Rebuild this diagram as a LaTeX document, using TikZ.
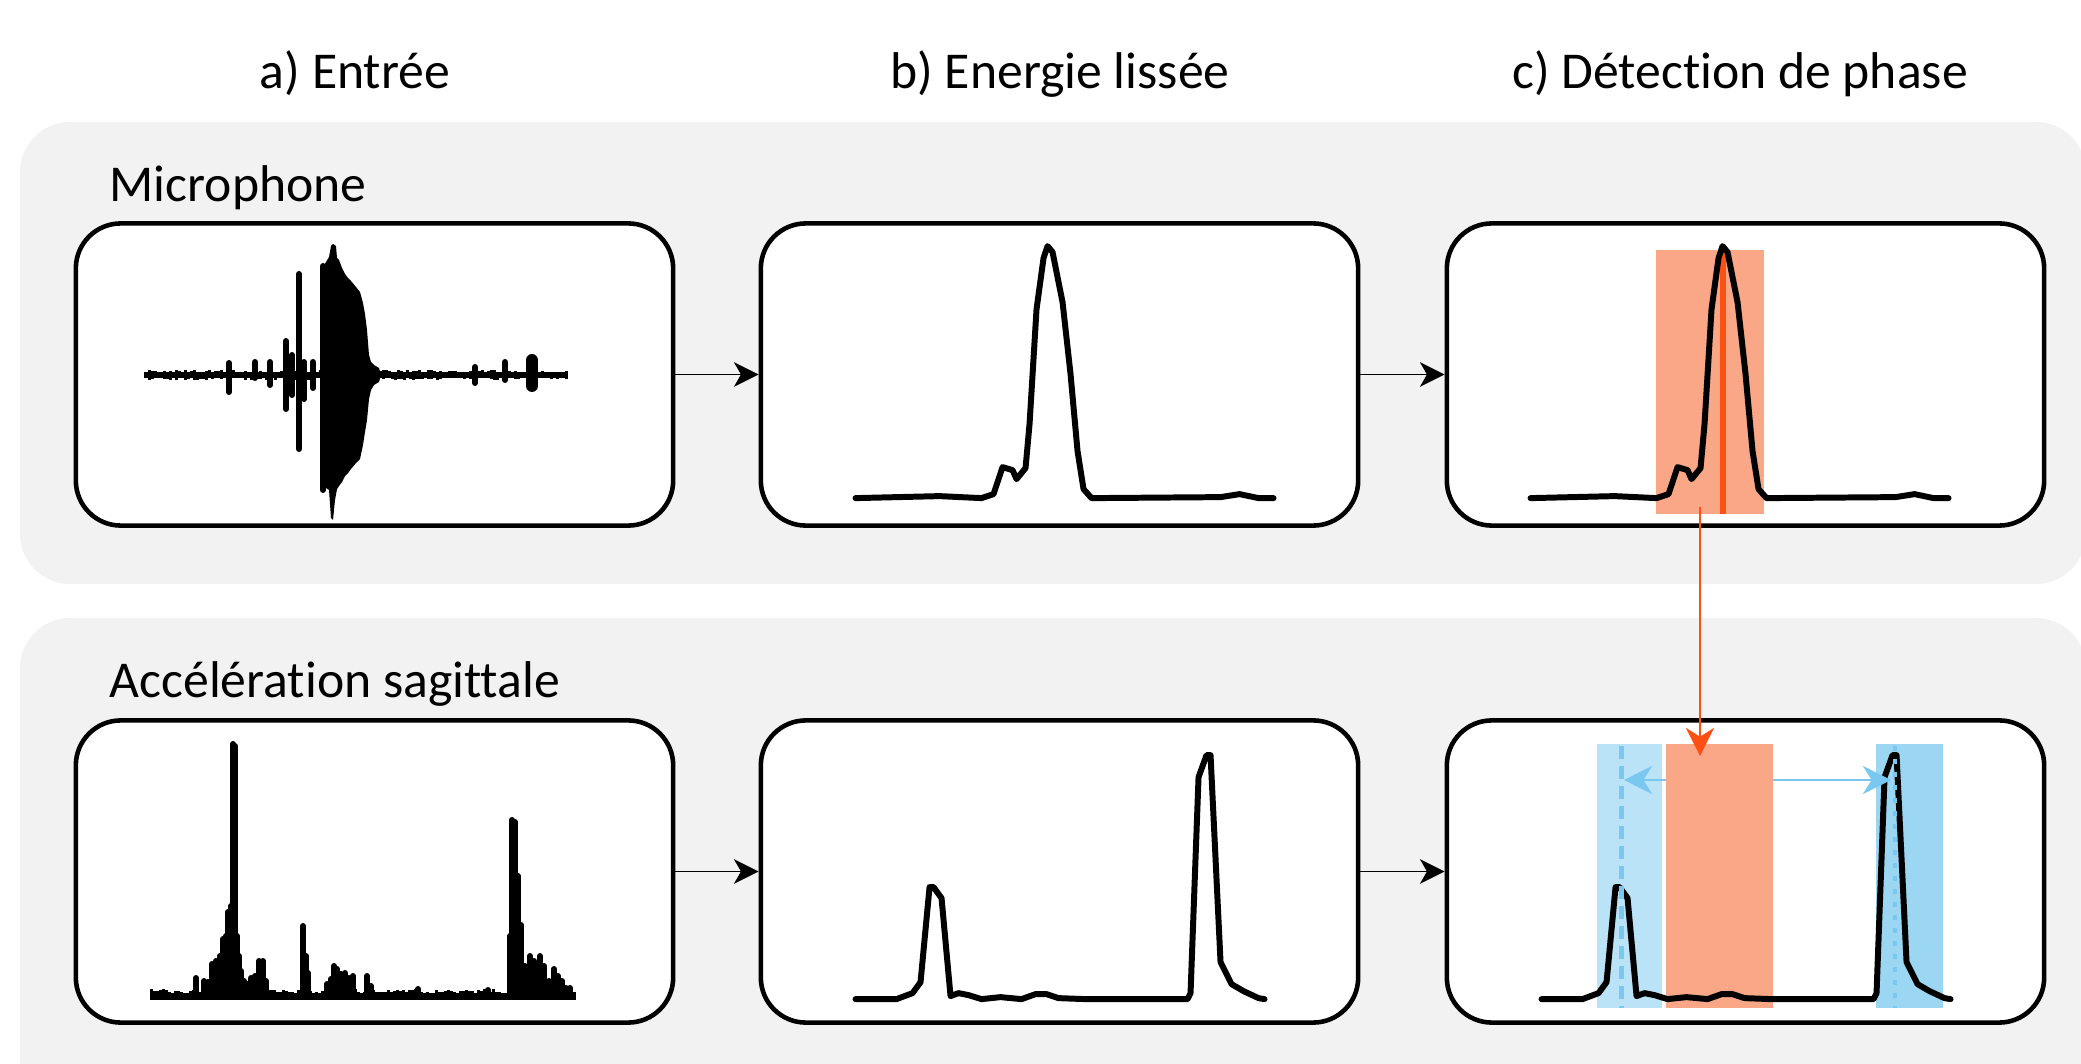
\documentclass[tikz,border=0pt]{standalone}
\usepackage{fontspec}
\setmainfont{Carlito}[Ligatures=NoCommon]
\usetikzlibrary{arrows.meta}

\definecolor{panelgray}{RGB}{242,242,242}
\definecolor{selorange}{RGB}{249,167,134}
\definecolor{peakred}{RGB}{252,80,20}
\definecolor{winlight}{RGB}{187,227,247}
\definecolor{windark}{RGB}{155,215,242}
\definecolor{lagblue}{RGB}{120,200,240}

\begin{document}
\begin{tikzpicture}[x=0.01cm, y=-0.01cm,
	panel/.style={fill=panelgray, rounded corners=0.5cm},
	plotbox/.style={draw, line width=1.3pt, fill=white, rounded corners=0.45cm, minimum width=5.97cm, minimum height=3.02cm, inner sep=0pt},
	heading/.style={anchor=base, inner sep=0pt, font=\fontsize{14.7}{18}\selectfont},
	flow/.style={-{Stealth[length=7pt, width=7pt, inset=2pt]}, line width=0.5pt},
	trace/.style={line width=1.7pt, line join=round, line cap=round},
	spike/.style={line width=0.06cm, line cap=round},
	hiss/.style={line width=0.03cm},
	band/.style={inner sep=0pt, outer sep=0pt, minimum height=2.64cm},
	energymic/.pic={
		\draw[trace] (97,277) -- (181,275) -- (223,277) -- (235,273) -- (244,246) -- (254,249) -- (258,258) -- (267,247) -- (271,203) -- (278,88) -- (285,37) -- (289,25) -- (294,31) -- (304,81) -- (312,153) -- (319,230) -- (325,268) -- (333,277) -- (462,276) -- (481,273) -- (500,277) -- (515,277);
	},
	energyacc/.pic={
		\draw[trace] (97,281) -- (138,281) -- (154,275) -- (162,264) -- (171,169) -- (175,169) -- (183,180) -- (192,278) -- (200,275) -- (210,277) -- (223,281) -- (242,279) -- (263,281) -- (277,276) -- (288,276) -- (300,280) -- (327,281) -- (429,281) -- (432,275) -- (440,59) -- (448,37) -- (452,37) -- (462,244) -- (473,266) -- (485,273) -- (500,280) -- (506,281);
	}]
	\useasboundingbox (0,0) rectangle (2081,1064);

	% Grey panels
	\fill[panel] (20,122) rectangle (2086,584);
	\fill[panel] (20,618) rectangle (2086,1110);

	% Column titles and row labels
	\node[heading] (ttlA) at (355,89) {a) Entrée};
	\node[heading] (ttlB) at (1060,89) {b) Energie lissée};
	\node[heading] (ttlC) at (1740,89) {c) Détection de phase};
	\node[heading, anchor=base west] (lblMic) at (109,202) {Microphone};
	\node[heading, anchor=base west] (lblAcc) at (109,698) {Accélération sagittale};

	% Plot boxes
	\node[plotbox] (mica) at (374.5,374.5) {};
	\node[plotbox] (micb) at (1059.5,374.5) {};
	\node[plotbox] (micc) at (1745.5,374.5) {};
	\node[plotbox] (acca) at (374.5,871.5) {};
	\node[plotbox] (accb) at (1059.5,871.5) {};
	\node[plotbox] (accc) at (1745.5,871.5) {};

	% Raw microphone signal
	\pgfmathsetseed{7}
	\draw[line width=0.06cm] (144,375) -- (567,375);
	\foreach \x in {146,149,...,566}
		\draw[hiss] (\x,{375-2-3*rnd}) -- (\x,{375+2+3*rnd});
	\fill[line join=round] (322,375) -- (322,269) -- (326,262) -- (329,257) -- (331,246) -- (333,244) -- (336,246) -- (337,258) -- (339,260) -- (342,268) -- (345,274) -- (348,278) -- (351,281) -- (356,287) -- (360,292) -- (363,303) -- (365,314) -- (367,330) -- (369,355) -- (371,362) -- (374,365) -- (379,368) -- (381,375)
		-- (379,382) -- (374,385) -- (371,390) -- (369,399) -- (367,420) -- (365,432) -- (363,445) -- (360,459) -- (356,463) -- (351,469) -- (348,473) -- (345,476) -- (342,482) -- (339,486) -- (337,489) -- (335,500) -- (333,520) -- (331,518) -- (329,490) -- (326,488) -- (322,488) -- cycle;
	\foreach \x/\t/\b in {229/363/392, 255/362/378, 270/362/385, 286/341/409, 292/355/395, 299/274/449, 304/362/399, 313/362/388, 323/266/490, 475/367/383, 505/362/380}
		\draw[spike] (\x,\t) -- (\x,\b);
	\draw[line width=0.12cm, line cap=round] (532,360) -- (532,386);

	% Raw sagittal acceleration
	\pgfmathsetseed{11}
	\draw[line width=0.07cm] (150,996) -- (576,996);
	\foreach \x in {151,154,...,575}
		\draw[hiss] (\x,{996-3-4*rnd}) -- (\x,{996+2+2*rnd});
	\foreach \x/\h in {196/18, 204/15, 208/14, 212/32, 216/35, 220/40, 223/57, 226/60, 228/84, 231/90, 233/252, 235/250, 237/60, 239/40, 241/25, 244/15, 247/12, 251/18, 255/20, 259/35, 263/35, 266/15, 303/70, 306/40, 308/23, 327/12, 331/17, 334/30, 337/27, 341/22, 345/23, 349/18, 353/20, 367/20, 371/10, 418/7, 488/6, 510/60, 512/176, 515/174, 518/120, 521/71, 525/30, 530/40, 534/35, 540/40, 544/30, 549/15, 554/27, 558/20, 562/15, 566/8, 570/8}
		\draw[spike] (\x,996) -- ++(0,-\h);

	% Smoothed energy
	\pic at (micb.north west) {energymic};
	\pic at (accb.north west) {energyacc};

	% Phase detection, microphone
	\node[band, fill=selorange, minimum width=1.08cm] (selMic) at (1710,382) {};
	\draw[peakred, line width=0.06cm] (1723,250) -- (1723,514);
	\pic at ([xshift=-0.11cm]micc.north west) {energymic};

	% Phase detection, acceleration
	\node[band, fill=winlight, minimum width=0.65cm] (winL) at (1629.5,876) {};
	\node[band, fill=selorange, minimum width=1.07cm] (selAcc) at (1719.5,876) {};
	\node[band, fill=windark, minimum width=0.67cm] (winR) at (1909.5,876) {};
	\pic at (accc.north west) {energyacc};
	\draw[lagblue, line width=0.05cm, dash pattern=on 0.13cm off 0.07cm] (1621,746) -- (1621,1008);
	\draw[lagblue, line width=0.045cm, dash pattern=on 0.05cm off 0.08cm] (1895,746) -- (1895,1008);

	% Connectors
	\draw[flow] (mica) -- (micb);
	\draw[flow] (micb) -- (micc);
	\draw[flow] (acca) -- (accb);
	\draw[flow] (accb) -- (accc);

	\coordinate (pkTop) at (1700,507);
	\coordinate (pkBot) at (1700,756);
	\draw[peakred, line width=0.6pt, -{Stealth[length=8pt, width=8pt, inset=2.5pt]}] (pkTop) -- (pkBot);

	\coordinate (lagL) at (1624,780);
	\coordinate (lagR) at (1891,780);
	\draw[lagblue, line width=0.7pt, -{Stealth[length=8pt, width=8pt, inset=2.5pt]}] (selAcc.west |- lagL) -- (lagL);
	\draw[lagblue, line width=0.7pt, -{Stealth[length=8pt, width=8pt, inset=2.5pt]}] (selAcc.east |- lagR) -- (lagR);
\end{tikzpicture}
\end{document}
